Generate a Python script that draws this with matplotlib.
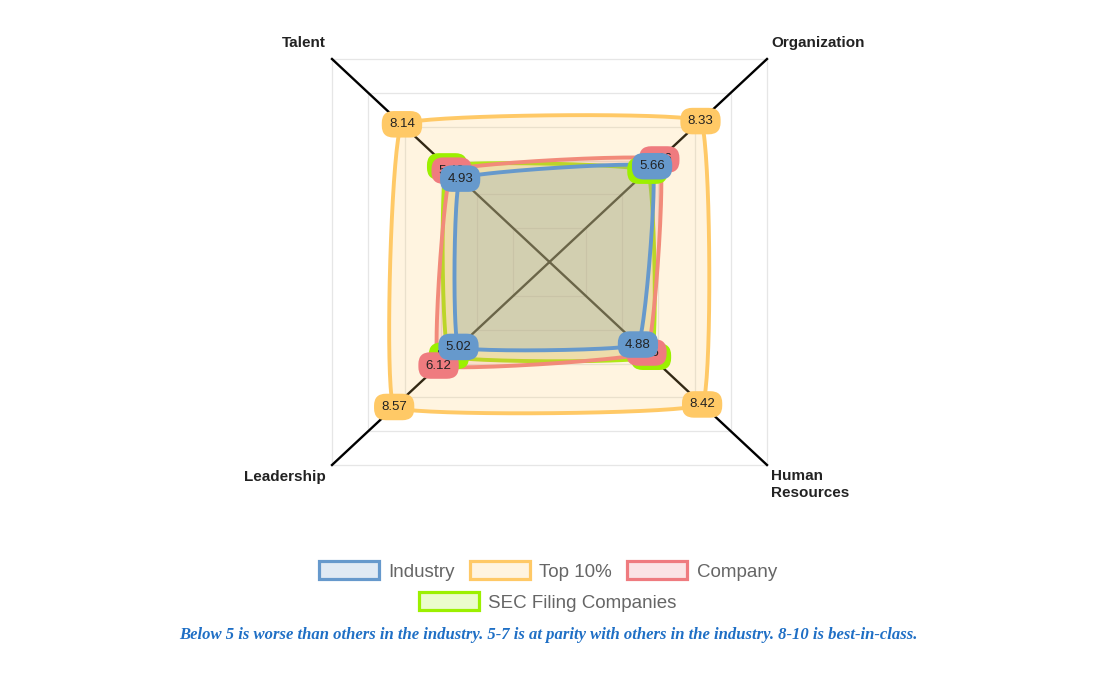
import numpy as np
import matplotlib.pyplot as plt
from matplotlib.patches import Patch

# Datos
axes_labels = ['Talent', 'Organization', 'Human\nResources', 'Leadership']
angles_deg = [135, 45, -45, -135]
series_names = ['Industry', 'Top 10%', 'Company', 'SEC Filing Companies']
industry = [4.93, 5.66, 4.88, 5.02]
top10 = [8.14, 8.33, 8.42, 8.57]
company = [5.40, 6.06, 5.35, 6.12]
sec = [5.65, 5.40, 5.60, 5.55]
r_max = 12
r_ticks = [2, 4, 6, 8, 10, 12]

colors = ['#6699cc', '#ffc966', '#ef7b7f', '#9cf000']
values = [industry, top10, company, sec]

th = np.radians(angles_deg)
c = np.cos(np.radians(45))


def to_xy(vals):
    v = np.asarray(vals, dtype=float)
    return v * np.cos(th), v * np.sin(th)


def spline_closed(xs, ys, t=0.1, n=40):
    # curva tipo Chart.js (tension) cerrada
    p = np.column_stack([xs, ys])
    m = len(p)
    cps = []
    for i in range(m):
        prev, cur, nxt = p[i - 1], p[i], p[(i + 1) % m]
        d01 = np.hypot(*(cur - prev))
        d12 = np.hypot(*(nxt - cur))
        s01 = d01 / (d01 + d12)
        s12 = d12 / (d01 + d12)
        cps.append((cur - t * s01 * (nxt - prev), cur + t * s12 * (nxt - prev)))
    u = np.linspace(0, 1, n)[:, None]
    out = []
    for i in range(m):
        p0, p3 = p[i], p[(i + 1) % m]
        p1, p2 = cps[i][1], cps[(i + 1) % m][0]
        seg = ((1 - u) ** 3) * p0 + 3 * ((1 - u) ** 2) * u * p1 + 3 * (1 - u) * u ** 2 * p2 + u ** 3 * p3
        out.append(seg)
    out = np.vstack(out)
    return out[:, 0], out[:, 1]


W, H = 1093, 675
fig = plt.figure(figsize=(W / 100, H / 100), dpi=100)
left, right, top, bottom = 332, 767, 59, 465
ax = fig.add_axes([left / W, 1 - bottom / H, (right - left) / W, (bottom - top) / H])
lim = r_max * c
ax.set_xlim(-lim, lim)
ax.set_ylim(-lim, lim)
ax.axis('off')

# Rejilla cuadrada
for r in r_ticks:
    gx, gy = to_xy([r] * 4)
    ax.plot(np.append(gx, gx[0]), np.append(gy, gy[0]), color='#e6e6e6', lw=0.9, zorder=1, clip_on=False)

# Lineas de ejes
for a in th:
    ax.plot([0, r_max * np.cos(a)], [0, r_max * np.sin(a)], color='black', lw=1.7, zorder=2, clip_on=False)

# Series (la primera queda encima)
for k in range(len(values) - 1, -1, -1):
    x, y = to_xy(values[k])
    sx, sy = spline_closed(x, y, t=0.07)
    z = 3 + (len(values) - k)
    ax.fill(sx, sy, color=colors[k], alpha=0.2, lw=0, zorder=z)
    ax.plot(sx, sy, color=colors[k], lw=2.8, zorder=z + 0.1, solid_capstyle='round')

# Etiquetas de valores
for k in range(len(values) - 1, -1, -1):
    x, y = to_xy(values[k])
    for xi, yi, v in zip(x, y, values[k]):
        ax.text(xi, yi, f'{v:.2f}', ha='center', va='center', fontsize=9.5,
                family='Liberation Sans', color='#222222', zorder=20 + (len(values) - k),
                bbox=dict(boxstyle='round,pad=0.55,rounding_size=0.9', fc=colors[k], ec='none'))

# Nombres de los ejes
offsets = [(-6, 16, 'right', 'center'), (4, 16, 'left', 'center'),
           (4, -4, 'left', 'top'), (-6, -12, 'right', 'center')]
for lab, a, (dx, dy, ha, va) in zip(axes_labels, th, offsets):
    ax.annotate(lab, xy=(r_max * np.cos(a), r_max * np.sin(a)), xytext=(dx, dy),
                textcoords='offset pixels', ha=ha, va=va, fontsize=11, fontweight='bold',
                family='Liberation Sans', color='#222222', linespacing=1.25,
                annotation_clip=False)

# Leyenda
handles = [Patch(facecolor=col, edgecolor=col, lw=2.3) for col in colors]
for h in handles:
    fc = h.get_facecolor()
    h.set_facecolor((fc[0], fc[1], fc[2], 0.2))
leg_kw = dict(frameon=False, handlelength=3.2, handleheight=1.1, handletextpad=0.5,
              columnspacing=0.8, prop={'family': 'Liberation Sans', 'size': 13.5}, labelcolor='#666666')
fig.legend(handles[:3], series_names[:3], loc='center', ncol=3,
           bbox_to_anchor=(548 / W, 1 - 571 / H), **leg_kw)
fig.legend(handles[3:], series_names[3:], loc='center', ncol=1,
           bbox_to_anchor=(548 / W, 1 - 602 / H), **leg_kw)

# Nota al pie
fig.text(548 / W, 1 - 635 / H,
         'Below 5 is worse than others in the industry. 5-7 is at parity with others in the industry. 8-10 is best-in-class.',
         ha='center', va='center', fontsize=12, fontweight='bold', fontstyle='italic',
         family='Liberation Serif', color='#1f6fc5')

fig.savefig('out.png', dpi=100)
